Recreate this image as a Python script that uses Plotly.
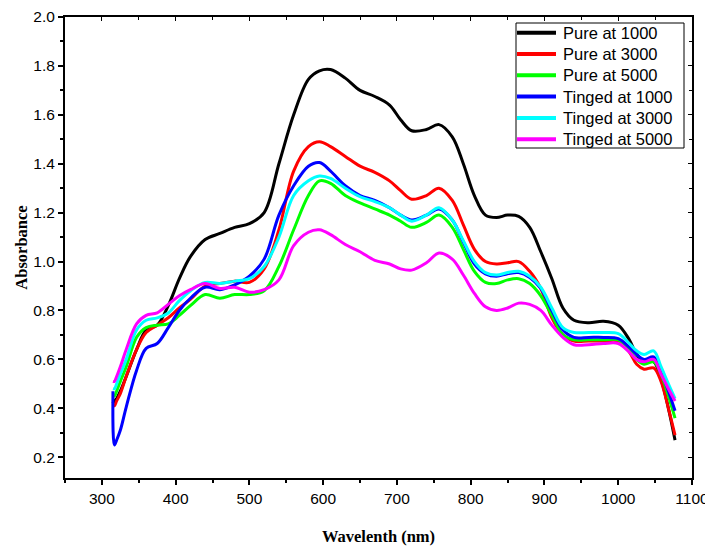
import plotly.graph_objects as go

wavelength = [315, 317, 320, 325, 333, 347, 360, 375, 390, 405, 420, 440, 460, 480, 500,
              520, 540, 560, 580, 595, 610, 630, 650, 670, 690, 705, 720, 740, 757, 775,
              790, 805, 820, 835, 850, 865, 880, 895, 910, 925, 940, 960, 980, 1000, 1015,
              1025, 1035, 1048, 1058, 1068, 1077]

pure_1000 = [0.42, 0.43, 0.44, 0.47, 0.53, 0.64, 0.72, 0.74, 0.82, 0.93, 1.02, 1.09, 1.115, 1.14, 1.155,
             1.20, 1.40, 1.60, 1.745, 1.78, 1.785, 1.75, 1.70, 1.675, 1.64, 1.58, 1.535, 1.54, 1.56, 1.51,
             1.40, 1.27, 1.19, 1.18, 1.19, 1.185, 1.14, 1.04, 0.93, 0.81, 0.76, 0.75, 0.756, 0.74, 0.68,
             0.62, 0.59, 0.59, 0.52, 0.40, 0.27]

pure_3000 = [0.41, 0.41, 0.43, 0.46, 0.53, 0.64, 0.71, 0.74, 0.77, 0.81, 0.845, 0.90, 0.91, 0.92, 0.915,
             0.97, 1.13, 1.37, 1.47, 1.49, 1.47, 1.43, 1.39, 1.365, 1.33, 1.29, 1.255, 1.27, 1.30, 1.25,
             1.15, 1.05, 1.00, 0.99, 0.995, 1.00, 0.96, 0.89, 0.77, 0.70, 0.675, 0.675, 0.675, 0.675, 0.63,
             0.58, 0.56, 0.565, 0.51, 0.40, 0.29]

pure_5000 = [0.45, 0.45, 0.47, 0.51, 0.57, 0.69, 0.73, 0.74, 0.745, 0.78, 0.82, 0.865, 0.85, 0.865, 0.865,
             0.88, 0.98, 1.13, 1.27, 1.33, 1.32, 1.27, 1.24, 1.215, 1.19, 1.165, 1.14, 1.16, 1.19, 1.14,
             1.05, 0.96, 0.915, 0.91, 0.925, 0.93, 0.91, 0.86, 0.78, 0.70, 0.68, 0.68, 0.68, 0.68, 0.64,
             0.60, 0.58, 0.59, 0.54, 0.45, 0.36]

tinged_1000 = [0.47, 0.25, 0.27, 0.31, 0.405, 0.555, 0.645, 0.665, 0.73, 0.80, 0.85, 0.895, 0.885, 0.905, 0.94,
               1.01, 1.19, 1.31, 1.39, 1.405, 1.37, 1.31, 1.27, 1.25, 1.22, 1.19, 1.17, 1.19, 1.215, 1.17,
               1.08, 0.99, 0.95, 0.94, 0.95, 0.955, 0.935, 0.89, 0.80, 0.72, 0.69, 0.69, 0.69, 0.685, 0.65,
               0.62, 0.60, 0.61, 0.55, 0.47, 0.39]

tinged_3000 = [0.48, 0.48, 0.50, 0.54, 0.60, 0.72, 0.76, 0.77, 0.79, 0.84, 0.88, 0.915, 0.91, 0.92, 0.93,
               0.98, 1.10, 1.27, 1.33, 1.35, 1.34, 1.30, 1.265, 1.245, 1.22, 1.19, 1.165, 1.19, 1.22, 1.17,
               1.085, 1.00, 0.955, 0.945, 0.955, 0.96, 0.94, 0.895, 0.81, 0.73, 0.71, 0.71, 0.71, 0.705, 0.665,
               0.635, 0.62, 0.635, 0.57, 0.50, 0.44]

tinged_5000 = [0.51, 0.51, 0.53, 0.57, 0.64, 0.745, 0.78, 0.79, 0.825, 0.86, 0.885, 0.91, 0.89, 0.895, 0.875,
               0.885, 0.925, 1.065, 1.12, 1.13, 1.11, 1.07, 1.04, 1.005, 0.99, 0.97, 0.965, 0.995, 1.035, 1.01,
               0.945, 0.87, 0.815, 0.80, 0.81, 0.83, 0.825, 0.80, 0.74, 0.69, 0.66, 0.66, 0.665, 0.665, 0.63,
               0.60, 0.59, 0.60, 0.54, 0.48, 0.43]

series_names = ["Pure at 1000", "Pure at 3000", "Pure at 5000",
                "Tinged at 1000", "Tinged at 3000", "Tinged at 5000"]
series_values = [pure_1000, pure_3000, pure_5000, tinged_1000, tinged_3000, tinged_5000]
series_colors = ["#000000", "#ff0000", "#00ff00", "#0000ff", "#00ffff", "#ff00ff"]

x_ticks = [300, 400, 500, 600, 700, 800, 900, 1000, 1100]
y_ticks = [0.2, 0.4, 0.6, 0.8, 1.0, 1.2, 1.4, 1.6, 1.8, 2.0]
x_range = [250, 1100]
y_range = [0.115, 2.0]

fig = go.Figure()
for name, vals, col in zip(series_names, series_values, series_colors):
    fig.add_trace(go.Scatter(x=wavelength, y=vals, name=name, mode="lines", showlegend=False,
                             line=dict(color=col, width=3, shape="spline", smoothing=1.0)))

# helper trace for mirrored axes (inside ticks on top / right)
fig.add_trace(go.Scatter(x=[None], y=[None], xaxis="x2", yaxis="y2",
                         showlegend=False, hoverinfo="skip"))

# legend drawn in plot-area (paper) coordinates; positions given in window pixels
W_PLOT, H_PLOT = 627.0, 461.0
X0, Y_BOTTOM = 65.0, 478.0
def px(x):
    return (x - X0) / W_PLOT
def py(y):
    return (Y_BOTTOM - y) / H_PLOT

shapes = [dict(type="rect", xref="paper", yref="paper",
               x0=px(516), x1=px(684), y0=py(148), y1=py(23),
               line=dict(color="black", width=1), fillcolor="white", layer="above")]
annotations = []
for i, (name, col) in enumerate(zip(series_names, series_colors)):
    yc = 32.7 + i * 21.3
    shapes.append(dict(type="line", xref="paper", yref="paper",
                       x0=px(517), x1=px(556), y0=py(yc), y1=py(yc),
                       line=dict(color=col, width=4), layer="above"))
    annotations.append(dict(xref="paper", yref="paper", x=px(561), y=py(yc),
                            text=name, showarrow=False, xanchor="left", yanchor="middle",
                            font=dict(family="Liberation Sans, Arial", size=16.5, color="black")))

tickfont = dict(family="Liberation Sans, Arial", size=15.5, color="black")
titlefont = dict(family="Liberation Serif, Times New Roman", size=16.5, color="black")

# page body has an 8px margin: figure is 8px smaller, plot area lands at x 65..692, y 17..478
fig.update_layout(
    width=705, height=538,
    margin=dict(l=57, r=21, t=9, b=68, autoexpand=False),
    paper_bgcolor="white", plot_bgcolor="white",
    showlegend=False,
    shapes=shapes, annotations=annotations,
    xaxis=dict(range=x_range, tickvals=x_ticks, ticktext=[str(v) for v in x_ticks],
               ticks="outside", ticklen=5, tickwidth=1.5, tickcolor="black",
               minor=dict(dtick=50, tick0=0, ticks="outside", ticklen=3, tickwidth=1.5, tickcolor="black"),
               showline=True, linecolor="black", linewidth=2, showgrid=False, zeroline=False,
               tickfont=tickfont, automargin=False, ticklabeloverflow="allow",
               title=dict(text="<b>Wavelenth (nm)</b>", font=titlefont, standoff=28)),
    yaxis=dict(range=y_range, tickvals=y_ticks, ticktext=["%.1f" % v for v in y_ticks],
               ticks="outside", ticklen=5, tickwidth=1.5, tickcolor="black",
               minor=dict(dtick=0.1, tick0=0, ticks="outside", ticklen=3, tickwidth=1.5, tickcolor="black"),
               showline=True, linecolor="black", linewidth=2, showgrid=False, zeroline=False,
               tickfont=tickfont, automargin=False, ticklabeloverflow="allow",
               title=dict(text="<b>Absorbance</b>", font=titlefont, standoff=2)),
    xaxis2=dict(range=x_range, overlaying="x", side="top", anchor="y",
                tickvals=x_ticks, showticklabels=False, automargin=False,
                ticks="inside", ticklen=4, tickwidth=1.2, tickcolor="black",
                minor=dict(dtick=50, tick0=0, ticks="inside", ticklen=3, tickwidth=1.2, tickcolor="black"),
                showline=True, linecolor="black", linewidth=2, showgrid=False, zeroline=False),
    yaxis2=dict(range=y_range, overlaying="y", side="right", anchor="x",
                tickvals=y_ticks, showticklabels=False, automargin=False,
                ticks="inside", ticklen=4, tickwidth=1.2, tickcolor="black",
                minor=dict(dtick=0.1, tick0=0, ticks="inside", ticklen=3, tickwidth=1.2, tickcolor="black"),
                showline=True, linecolor="black", linewidth=2, showgrid=False, zeroline=False),
)

fig.write_html("out.html")
